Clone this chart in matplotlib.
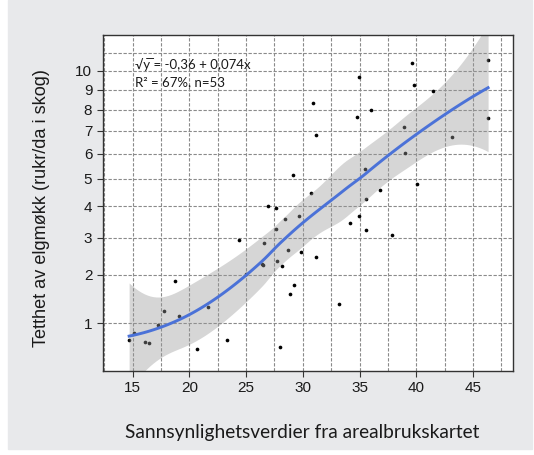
import numpy as np
import matplotlib
matplotlib.use("Agg")
import matplotlib.pyplot as plt
from matplotlib.patches import Rectangle

# Sannsynlighet fra arealbrukskartet (x) og tetthet av elgmøkk (y), n=53
sannsynlighet = [
    29.10, 39.61, 46.33, 34.94, 39.78, 41.46, 30.91, 34.76, 36.02, 31.18,
    38.90, 46.28, 43.19, 39.02, 35.49, 40.07, 36.79, 35.56, 30.74, 26.92,
    27.65, 28.44, 29.68, 27.65, 24.37, 26.57, 28.73, 29.87, 26.37, 26.45,
    27.76, 28.20, 24.98, 18.74, 29.24, 28.89, 21.65, 17.76, 19.05, 15.11,
    14.69, 16.07, 16.46, 20.67, 23.33, 27.98, 34.94, 34.15, 35.56, 37.89,
    31.15, 33.20, 17.20,
]
tetthet = [
    5.13, 10.44, 10.59, 9.64, 9.24, 8.93, 8.34, 7.66, 7.98, 6.83,
    7.18, 7.61, 6.72, 6.04, 5.39, 4.80, 4.58, 4.27, 4.47, 4.02,
    3.94, 3.59, 3.67, 3.26, 2.94, 2.85, 2.64, 2.58, 2.28, 2.25,
    2.36, 2.22, 2.02, 1.85, 1.76, 1.57, 1.29, 1.23, 1.13, 0.845,
    0.73, 0.71, 0.69, 0.61, 0.73, 0.63, 3.67, 3.46, 3.24, 3.07,
    2.45, 1.36, 0.97,
]

x_ticks = [15, 20, 25, 30, 35, 40, 45]
y_ticks = [1, 2, 3, 4, 5, 6, 7, 8, 9, 10]
y_grid = [1, 2, 3, 4, 5, 6, 7, 8, 9, 10, 11]
likning = "\u221Ay\u0305 = -0,36 + 0,074x"
forklart = "R\u00B2 = 67%, n=53"

BG = "#e8e9eb"
INK = "#1a1a1a"


def loess(x, y, xs, span=0.75, cell=0.2):
    """Loess (grad 2, tricube) med kd-tre-interpolasjon og standardfeil,
    omtrent slik R::loess gjør det med surface = "interpolate"."""
    n = len(x)
    q = int(np.floor(n * span))
    fc = int(np.floor(n * span * cell))

    def lokal(x0):
        d = np.abs(x - x0)
        h = np.sort(d)[q - 1]
        w = np.clip(1 - (d / h) ** 3, 0, None) ** 3
        X = np.column_stack([np.ones(n), x - x0, (x - x0) ** 2])
        XtW = X.T * w
        B = np.linalg.solve(XtW @ X, XtW)
        return B[0], B[1]

    # hjørner i kd-treet
    marg = 0.005 * (x.max() - x.min())
    verts = [x.min() - marg, x.max() + marg]

    def del_opp(pts):
        if len(pts) <= fc:
            return
        p = np.sort(pts)
        m = (len(p) - 1) // 2
        v = 0.5 * (p[m] + p[m + 1])
        verts.append(v)
        del_opp(p[p <= v])
        del_opp(p[p > v])

    del_opp(x)
    verts = np.unique(verts)
    V = [lokal(v) for v in verts]

    def rad(x0):
        i = min(np.searchsorted(verts, x0, side="right") - 1, len(verts) - 2)
        a, b = verts[i], verts[i + 1]
        hh = b - a
        t = (x0 - a) / hh
        h00 = 2 * t**3 - 3 * t**2 + 1
        h10 = t**3 - 2 * t**2 + t
        h01 = -2 * t**3 + 3 * t**2
        h11 = t**3 - t**2
        return (h00 * V[i][0] + h10 * hh * V[i][1]
                + h01 * V[i + 1][0] + h11 * hh * V[i + 1][1])

    L = np.array([rad(v) for v in x])
    R = np.eye(n) - L
    res = y - L @ y
    d1 = np.trace(R.T @ R)
    sigma = np.sqrt(np.sum(res ** 2) / d1)
    Lp = np.array([rad(v) for v in xs])
    return Lp @ y, sigma * np.sqrt(np.sum(Lp ** 2, axis=1))


x = np.array(sannsynlighet)
s = np.sqrt(np.array(tetthet))
xs = np.linspace(x.min(), x.max(), 120)
fit, se = loess(x, s, xs)
t_crit = 2.01

fig = plt.figure(figsize=(5.34, 4.55), dpi=100)
fig.patch.set_facecolor("white")
fig.patches.append(Rectangle((8 / 534, 6 / 455), 524 / 534, 449 / 455,
                             transform=fig.transFigure, color=BG, zorder=-5))

ax = fig.add_axes([0.1923, 0.1853, 0.7689, 0.7378])
ax.set_zorder(2)
ax.set_facecolor("white")
ax.set_yscale("function", functions=(lambda v: np.sqrt(np.clip(v, 0, None)),
                                     np.square))
ax.set_xlim(12.36, 48.55)
ax.set_ylim(0.354, 12.02)

# rutenett: hver 2,5 på x, hvert heltall på y
for gx in np.arange(12.5, 48.5, 2.5):
    ax.axvline(gx, color="#8a8a8a", lw=0.8, ls=(0, (3, 1.5)), zorder=1)
for gy in y_grid:
    ax.axhline(gy, color="#8a8a8a", lw=0.8, ls=(0, (3, 1.5)), zorder=1)

# punktene under glattekurven, som i ggplot
ax.scatter(x, tetthet, s=7, color="black", zorder=1.5, lw=0)
lo = np.clip(fit - t_crit * se, 0, None) ** 2
hi = (fit + t_crit * se) ** 2
ax.fill_between(xs, lo, hi, color="#999999", alpha=0.4, lw=0, zorder=2)
ax.plot(xs, fit ** 2, color="#4b72d8", lw=2.1, zorder=3)

ax.set_xticks(x_ticks)
ax.set_xticklabels([str(v) for v in x_ticks])
ax.set_yticks(y_ticks)
ax.set_yticklabels([str(v) for v in y_ticks])
ax.minorticks_off()
ax.tick_params(direction="out", length=4, width=0.8, colors="#333333",
               labelsize=11, labelcolor=INK)
for sp in ax.spines.values():
    sp.set_color("#333333")
    sp.set_linewidth(1.0)

ax.set_xlabel("Sannsynlighetsverdier fra arealbrukskartet",
              family=["Lato", "DejaVu Sans"], fontsize=13.8, color=INK)
ax.xaxis.label.set_va("center")
ax.xaxis.set_label_coords(0.485, -0.183)
ax.set_ylabel("Tetthet av elgmøkk (rukr/da i skog)",
              family=["Liberation Sans", "DejaVu Sans"], fontsize=13.1,
              color=INK)
ax.yaxis.label.set_va("center")
ax.yaxis.set_label_coords(-0.148, 0.485)

ax.text(0.079, 0.911, likning, transform=ax.transAxes, ha="left", va="center",
        family=["Lato", "DejaVu Sans"], fontsize=9.5, color=INK)
ax.text(0.079, 0.86, forklart, transform=ax.transAxes, ha="left", va="center",
        family=["Lato", "DejaVu Sans"], fontsize=9.5, color=INK)

for lab in ax.get_xticklabels() + ax.get_yticklabels():
    lab.set_family(["Liberation Sans", "DejaVu Sans"])

fig.savefig("out.png", dpi=100, facecolor=fig.get_facecolor())
